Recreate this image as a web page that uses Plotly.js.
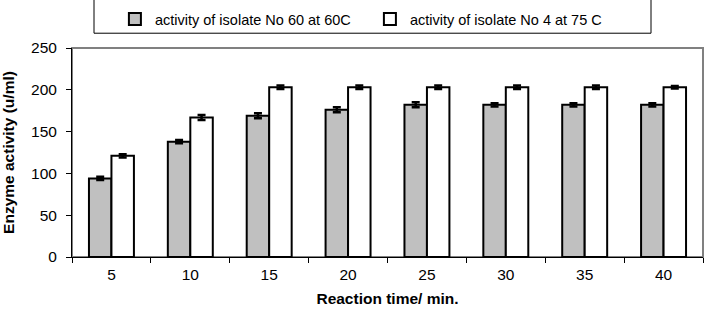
<!DOCTYPE html>
<html>
<head>
<meta charset="utf-8">
<script src="https://cdn.plot.ly/plotly-3.0.1.min.js"></script>
<style>html,body{margin:0;padding:0;background:#fff;}#chart{width:706px;height:311px;}</style>
</head>
<body>
<div id="chart"></div>
<script>
var categories = ['5', '10', '15', '20', '25', '30', '35', '40'];
var isolate60 = [94, 138, 169, 176, 182, 182, 182, 182];
var isolate60Err = [2, 2, 3, 3, 3, 2, 2, 2];
var isolate4 = [121, 167, 203, 203, 203, 203, 203, 203];
var isolate4Err = [2, 3, 2, 2, 2, 2, 2, 1.5];
var seriesNames = ['activity of isolate No 60 at 60C', 'activity of isolate No 4 at 75 C'];

var font = 'Arial, "Liberation Sans", sans-serif';
var traces = [
  {
    type: 'bar', x: categories, y: isolate60, name: seriesNames[0],
    marker: {color: '#c0c0c0', line: {color: '#000', width: 2}},
    error_y: {type: 'data', array: isolate60Err, visible: true, color: '#000', thickness: 2.5, width: 4}
  },
  {
    type: 'bar', x: categories, y: isolate4, name: seriesNames[1],
    marker: {color: '#ffffff', line: {color: '#000', width: 2}},
    error_y: {type: 'data', array: isolate4Err, visible: true, color: '#000', thickness: 2.5, width: 4}
  }
];

var layout = {
  width: 706, height: 311,
  margin: {l: 72, r: 3, t: 45, b: 54},
  paper_bgcolor: '#fff', plot_bgcolor: '#fff',
  font: {family: font, size: 15, color: '#000'},
  barmode: 'group', bargap: 0.43, bargroupgap: 0,
  showlegend: true,
  legend: {
    orientation: 'h', x: 0.068, xanchor: 'left', y: 1.215, yanchor: 'top',
    font: {family: font, size: 14.5, color: '#000'},
    bgcolor: 'rgba(0,0,0,0)', borderwidth: 0,
    entrywidth: 210, itemwidth: 30, traceorder: 'normal'
  },
  xaxis: {
    type: 'category', tickson: 'boundaries', ticks: 'outside', ticklen: 5, tickcolor: '#000', tickwidth: 1,
    showline: true, linecolor: '#000', linewidth: 1, showgrid: false, zeroline: false,
    ticklabelstandoff: 3,
    tickfont: {family: font, size: 15.5, color: '#000'},
    title: {text: 'Reaction time/ min.', font: {family: font, size: 15.5, color: '#000', weight: 'bold'}, standoff: 11}
  },
  yaxis: {
    range: [0, 250], dtick: 50, ticks: 'outside', ticklen: 5, tickcolor: '#000',
    showline: true, linecolor: '#000', linewidth: 1, showgrid: false, zeroline: false,
    ticklabelstandoff: 6,
    tickfont: {family: font, size: 15.5, color: '#000'},
    title: {text: 'Enzyme activity (u/ml)', font: {family: font, size: 15.5, color: '#000', weight: 'bold'}, standoff: 12}
  },
  shapes: [
    {type: 'rect', xref: 'paper', yref: 'paper', x0: 0, x1: 1, y0: 0, y1: 1, line: {color: '#808080', width: 2}, layer: 'below'},
    {type: 'rect', xref: 'paper', yref: 'paper', x0: (94 - 72) / 631, x1: (651 - 72) / 631, y0: (257 - 30) / 212, y1: (257 + 10) / 212, line: {color: '#000', width: 1}, fillcolor: 'rgba(0,0,0,0)', layer: 'above'}
  ]
};

Plotly.newPlot('chart', traces, layout, {displayModeBar: false, staticPlot: true});
</script>
</body>
</html>
